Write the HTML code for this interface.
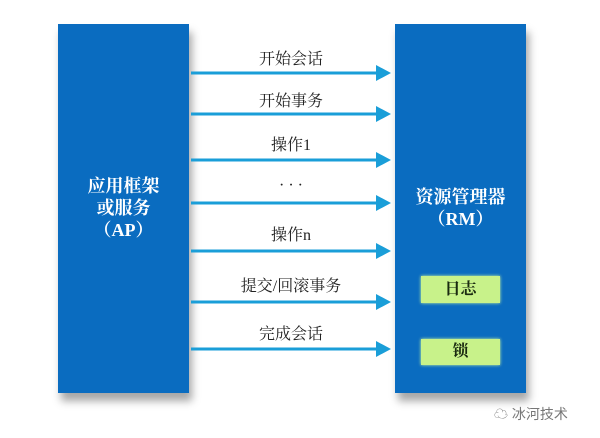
<!DOCTYPE html>
<html><head><meta charset="utf-8"><style>
body{margin:0;width:600px;height:438px;background:#fff;position:relative;overflow:hidden;font-family:"Liberation Serif","Noto Serif CJK SC",serif;}
.box{position:absolute;background:#0a6cc0;box-shadow:3px 8px 8px rgba(0,0,0,0.35);}
.t{position:absolute;color:#fff;font-weight:bold;font-size:18px;text-align:center;line-height:22px;}
.lbl{position:absolute;left:200px;width:182px;text-align:center;font-size:16px;color:#222;}
.g{position:absolute;background:#c8f28a;box-shadow:0 0 3px #d8ff9a;font-size:16px;font-weight:bold;text-align:center;color:#1a2a10;}
</style></head><body>
<div class="box" style="left:58px;top:24px;width:131px;height:369px"></div>
<div class="box" style="left:395px;top:24px;width:131px;height:369px"></div>
<div class="t" style="left:58px;width:131px;top:175px">应用框架<br>或服务<br>（AP）</div>
<div class="t" style="left:395px;width:131px;top:186px">资源管理器<br>（RM）</div>
<div class="g" style="left:421px;top:276px;width:79px;height:27px;line-height:27px">日志</div>
<div class="g" style="left:421px;top:339px;width:79px;height:26px;line-height:26px">锁</div>
<svg style="position:absolute;left:0;top:0" width="600" height="438">
<g fill="#1a9ed8" stroke="#1a9ed8">
<line x1="191" y1="73" x2="378" y2="73" stroke-width="3"/><polygon points="376,65 391,73 376,81" stroke="none"/>
<line x1="191" y1="114" x2="378" y2="114" stroke-width="3"/><polygon points="376,106 391,114 376,122" stroke="none"/>
<line x1="191" y1="160" x2="378" y2="160" stroke-width="3"/><polygon points="376,152 391,160 376,168" stroke="none"/>
<line x1="191" y1="203" x2="378" y2="203" stroke-width="3"/><polygon points="376,195 391,203 376,211" stroke="none"/>
<line x1="191" y1="251" x2="378" y2="251" stroke-width="3"/><polygon points="376,243 391,251 376,259" stroke="none"/>
<line x1="191" y1="302" x2="378" y2="302" stroke-width="3"/><polygon points="376,294 391,302 376,310" stroke="none"/>
<line x1="191" y1="349" x2="378" y2="349" stroke-width="3"/><polygon points="376,341 391,349 376,357" stroke="none"/>
</g></svg>
<div class="lbl" style="top:46px">开始会话</div>
<div class="lbl" style="top:88px">开始事务</div>
<div class="lbl" style="top:132px">操作1</div>
<div class="lbl" style="top:177px">· · ·</div>
<div class="lbl" style="top:222px">操作n</div>
<div class="lbl" style="top:273px">提交/回滚事务</div>
<div class="lbl" style="top:321px">完成会话</div>
<div style="position:absolute;left:494px;top:404px;font-size:14px;color:#777;font-family:'Liberation Sans','Noto Sans CJK SC',sans-serif">☁ 冰河技术</div>
</body></html>
